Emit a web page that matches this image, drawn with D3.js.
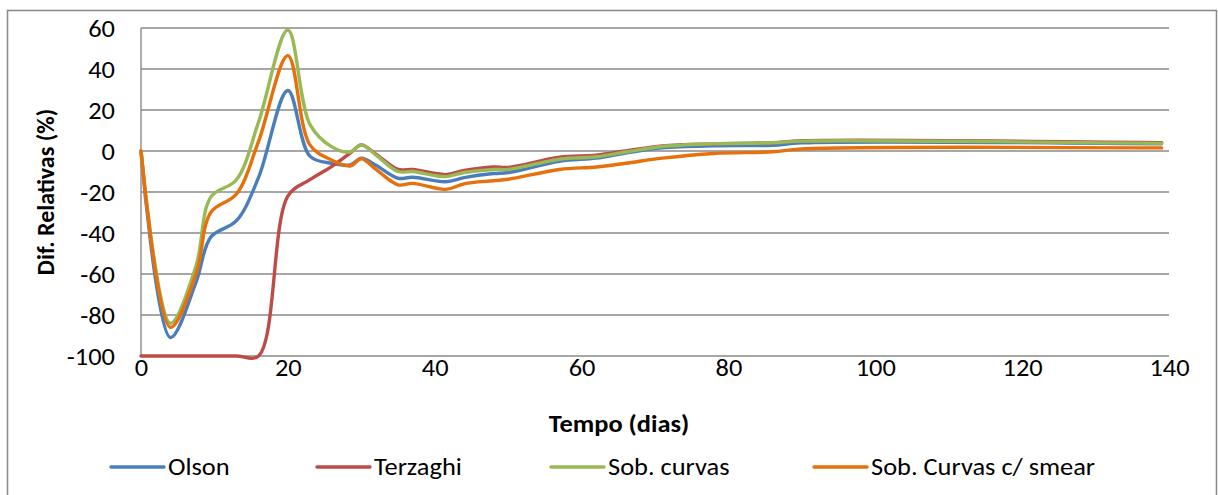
<!DOCTYPE html>
<html>
<head>
<meta charset="utf-8">
<script src="https://cdn.jsdelivr.net/npm/d3@7"></script>
<style>
  html, body { margin: 0; padding: 0; background: #fff; }
  svg { display: block; }
  text { font-family: Carlito, "Open Sans", sans-serif; fill: #000; }
</style>
</head>
<body>
<svg id="chart" width="1218" height="495"></svg>
<script>
// Time samples (days) shared by every series
const tempo = [0, 4, 7.5, 9.5, 13, 16, 20, 23, 26, 28.5, 30, 32, 35, 37, 41.5, 44, 48, 50, 57, 62, 66, 71, 78, 86, 90, 139];

// Relative differences (%) for each method
const olson     = [0, -91, -64, -42, -34, -13, 29.5, -2.5, -6, -6.8, -3.5, -7, -13.3, -12.8, -15, -13, -11, -10.5, -5, -3.5, -1, 1.5, 2.5, 2.8, 4, 3.5];
const terzaghi  = [-100, -100, -100, -100, -100, -100, -22, -14, -7.5, -1, 3, -1.5, -9, -9, -11.5, -9.5, -7.8, -8, -3, -2, 0, 2.5, 3.5, 4, 5, 4];
const sobCurvas = [0, -84, -56, -22.5, -14, 14, 59, 13, 2, -0.5, 3, -2, -10, -10, -12.5, -10.5, -9, -9, -4, -2.8, -0.5, 2.2, 3.5, 4, 4.8, 3.7];
const sobSmear  = [0, -86, -60, -30, -21, 4.6, 46.5, 3, -4.5, -7.3, -3.8, -9, -16.5, -15.8, -18.7, -16, -14.5, -13.8, -9, -7.8, -6, -3.5, -1.2, -0.4, 1, 1.5];

const seriesNames = ["Olson", "Terzaghi", "Sob. curvas", "Sob. Curvas c/ smear"];
const seriesColors = ["#4a7ebb", "#be4b48", "#98b954", "#e8700c"];
const seriesValues = [olson, terzaghi, sobCurvas, sobSmear];

const xTicks = [0, 20, 40, 60, 80, 100, 120, 140];
const yTicks = [60, 40, 20, 0, -20, -40, -60, -80, -100];

const FONT = 24;      // text size in px
const SX = 1.1;       // horizontal stretch applied to the lettering

const svg = d3.select("#chart");

// Outer chart frame
svg.append("rect")
  .attr("x", 7.5).attr("y", 10.5)
  .attr("width", 1209).attr("height", 500)
  .attr("fill", "none").attr("stroke", "#8c8c8c").attr("stroke-width", 1.6);

const plot = { left: 141, right: 1169, top: 28, bottom: 356 };

const x = d3.scaleLinear().domain([0, 140]).range([plot.left, plot.right]);
const y = d3.scaleLinear().domain([-100, 60]).range([plot.bottom, plot.top]);

// Horizontal gridlines
svg.append("g")
  .selectAll("line")
  .data(yTicks)
  .join("line")
  .attr("x1", plot.left).attr("x2", plot.right)
  .attr("y1", d => y(d)).attr("y2", d => y(d))
  .attr("stroke", "#8a8a8a").attr("stroke-width", 1.4);

// Vertical axis line
svg.append("line")
  .attr("x1", plot.left).attr("x2", plot.left)
  .attr("y1", plot.top).attr("y2", plot.bottom)
  .attr("stroke", "#8a8a8a").attr("stroke-width", 1.4);

// Y axis tick labels (plain hyphen for negatives)
const yAxis = d3.axisLeft(y).tickValues(yTicks).tickSize(0).tickFormat(d => String(d));
const gy = svg.append("g").attr("transform", `translate(${plot.left},0)`).call(yAxis);
gy.select(".domain").remove();
gy.selectAll("text")
  .style("font-size", FONT + "px").attr("fill", "#000")
  .style("font-family", 'Carlito, "Open Sans", sans-serif')
  .attr("x", -26 / SX)
  .attr("dy", "0.35em")
  .attr("transform", `scale(${SX},1)`);

// X axis tick labels
const xAxis = d3.axisBottom(x).tickValues(xTicks).tickSize(0).tickFormat(d => String(d));
const gx = svg.append("g").attr("transform", `translate(0,${plot.bottom})`).call(xAxis);
gx.select(".domain").remove();
gx.selectAll("text")
  .style("font-size", FONT + "px").attr("fill", "#000")
  .style("font-family", 'Carlito, "Open Sans", sans-serif')
  .attr("y", 12)
  .attr("dy", "0.35em")
  .attr("transform", `scale(${SX},1)`);

// Series lines
const line = d3.line()
  .x((d, i) => x(tempo[i]))
  .y(d => y(d))
  .curve(d3.curveCatmullRom.alpha(0.5));

svg.append("g")
  .selectAll("path")
  .data(seriesValues)
  .join("path")
  .attr("d", d => line(d))
  .attr("fill", "none")
  .attr("stroke", (d, i) => seriesColors[i])
  .attr("stroke-width", 3.4)
  .attr("stroke-linejoin", "round")
  .attr("stroke-linecap", "round");

// Axis titles
svg.append("text")
  .attr("transform", `translate(619,432) scale(${SX},1)`)
  .attr("text-anchor", "middle")
  .style("font-size", FONT + "px").style("font-weight", "bold")
  .text("Tempo (dias)");

svg.append("text")
  .attr("transform", "translate(54,192) rotate(-90)")
  .attr("text-anchor", "middle")
  .style("font-size", FONT + "px").style("font-weight", "bold")
  .text("Dif. Relativas (%)");

// Legend
const legendX = [111, 317, 551, 814];
const legendY = 467;
const lg = svg.append("g")
  .selectAll("g")
  .data(seriesNames)
  .join("g")
  .attr("transform", (d, i) => `translate(${legendX[i]},${legendY})`);
lg.append("line")
  .attr("x1", 0).attr("x2", 53).attr("y1", 0).attr("y2", 0)
  .attr("stroke", (d, i) => seriesColors[i]).attr("stroke-width", 3.4)
  .attr("stroke-linecap", "round");
lg.append("text")
  .attr("transform", `translate(57,0) scale(${SX},1)`)
  .attr("dy", "0.35em")
  .style("font-size", FONT + "px")
  .text(d => d);
</script>
</body>
</html>
